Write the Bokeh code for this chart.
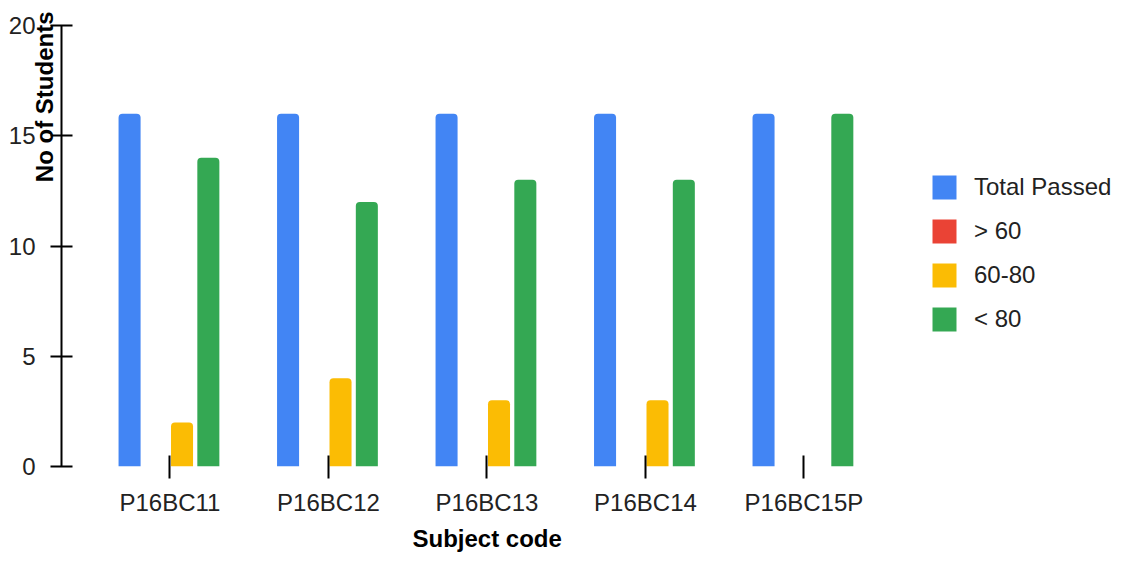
import numpy as np
from bokeh.plotting import figure
from bokeh.models import ColumnDataSource, FixedTicker, Legend, LegendItem, Range1d, Title
from bokeh.embed import file_html
from bokeh.resources import INLINE

categories = ["P16BC11", "P16BC12", "P16BC13", "P16BC14", "P16BC15P"]
series_names = ["Total Passed", "> 60", "60-80", "< 80"]
total_passed = [16, 16, 16, 16, 16]
above_60 = [0, 0, 0, 0, 0]
r60_80 = [2, 4, 3, 3, 0]
below_80 = [14, 12, 13, 13, 16]
y_ticks = [0, 5, 10, 15, 20]

colors = ["#4285F4", "#EA4335", "#FBBC04", "#34A853"]
offsets = [-0.255, -0.09, 0.076, 0.242]
bar_w = 0.139
FONT = "Liberation Sans"
FS = "24px"

p = figure(width=1113, height=557, output_backend="svg", toolbar_location=None,
           x_range=Range1d(-0.6845, 5.953), y_range=Range1d(0, 20),
           min_border_left=61, min_border_right=0, min_border_top=25, min_border_bottom=91)
p.outline_line_color = None
p.xgrid.visible = False
p.ygrid.visible = False
p.background_fill_color = "white"
p.border_fill_color = "white"

idx = np.arange(len(categories))
renderers = []
for vals, col, off in zip([total_passed, above_60, r60_80, below_80], colors, offsets):
    src = ColumnDataSource(dict(x=idx + off, top=vals, cat=categories))
    r = p.vbar(x="x", top="top", bottom=0, width=bar_w, source=src,
               fill_color=col, line_color=None, border_radius=(4, 4, 0, 0))
    renderers.append(r)

# x axis
xa = p.xaxis[0]
xa.ticker = FixedTicker(ticks=list(idx))
xa.major_label_overrides = {int(i): c for i, c in zip(idx, categories)}
xa.axis_line_color = None
xa.major_tick_in = 11
xa.major_tick_out = 12
xa.major_tick_line_width = 2
xa.major_tick_line_color = "black"
xa.minor_tick_line_color = None
xa.major_label_standoff = 10
xa.major_label_text_font = FONT
xa.major_label_text_font_size = FS
xa.major_label_text_color = "#222222"

# y axis
ya = p.yaxis[0]
ya.ticker = FixedTicker(ticks=y_ticks)
ya.axis_line_width = 2
ya.axis_line_color = "black"
ya.major_tick_in = 11
ya.major_tick_out = 11
ya.major_tick_line_width = 2
ya.major_tick_line_color = "black"
ya.minor_tick_line_color = None
ya.major_label_standoff = 15
ya.major_label_text_font = FONT
ya.major_label_text_font_size = FS
ya.major_label_text_color = "#222222"

# axis titles as side-panel titles, so they can be placed like the reference
p.add_layout(Title(text="Subject code", align="left", offset=351, vertical_align="bottom",
                   standoff=8, text_font=FONT, text_font_size=FS,
                   text_font_style="bold", text_color="black"), "below")
p.add_layout(Title(text="No of Students", align="right", offset=-14, vertical_align="bottom",
                   standoff=-104, text_font=FONT, text_font_size=FS,
                   text_font_style="bold", text_color="black"), "left")

legend = Legend(items=[LegendItem(label=n, renderers=[r]) for n, r in zip(series_names, renderers)],
                location=(868, 132), orientation="vertical",
                glyph_width=30, glyph_height=30, label_height=30, spacing=14,
                label_standoff=15, padding=0, margin=0,
                label_text_font=FONT, label_text_font_size=FS,
                label_text_color="#222222", label_text_baseline="middle",
                border_line_color=None, background_fill_alpha=0)
p.add_layout(legend, "center")

open("out.html", "w").write(file_html(p, INLINE))
